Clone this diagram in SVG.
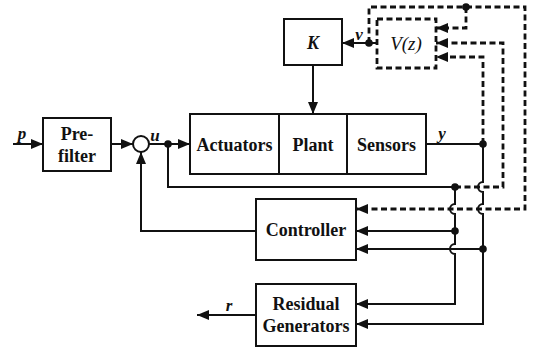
<svg xmlns="http://www.w3.org/2000/svg" width="533" height="352" viewBox="0 0 533 352">
<style>
.box{fill:#fff;stroke:#111;stroke-width:2}
.dbox{fill:none;stroke:#111;stroke-width:2.8;stroke-dasharray:6 3.5}
.ln{fill:none;stroke:#111;stroke-width:2}
.dl{fill:none;stroke:#111;stroke-width:2.8;stroke-dasharray:6 3.5}
.dot{fill:#111}
.t{font-family:"Liberation Serif","Times New Roman",serif;font-weight:bold;font-size:18px;fill:#111;text-anchor:middle}
.lbl{font-family:"Liberation Serif","Times New Roman",serif;font-weight:bold;font-style:italic;font-size:17px;fill:#111;text-anchor:middle}
</style>
<defs>
<marker id="ah" viewBox="0 0 12 10" refX="12" refY="5" markerWidth="12" markerHeight="10" markerUnits="userSpaceOnUse" orient="auto">
<path d="M0,0 L12,5 L0,10 z" fill="#111"/>
</marker>
</defs>
<g id="connectors">
<path class="ln" d="M13,144 H43" marker-end="url(#ah)"/>
<path class="ln" d="M111,144 H133" marker-end="url(#ah)"/>
<path class="ln" d="M149,144 H190" marker-end="url(#ah)"/>
<path class="ln" d="M168,144 V187 H455"/>
<path class="ln" d="M313,65 V114" marker-end="url(#ah)"/>
<path class="ln" d="M377,43 H342" marker-end="url(#ah)"/>
<path class="ln" d="M426,144 H483"/>
<path class="dl" d="M369,43 V7 H525 V209 H356" marker-end="url(#ah)"/>
<path class="dl" d="M466,7 V28 H436" marker-end="url(#ah)"/>
<path class="dl" d="M455,187 H503 V43 H436" marker-end="url(#ah)"/>
<path class="dl" d="M483,144 V57 H436" marker-end="url(#ah)"/>
<path class="ln" d="M483,144 V182 A5,5 0 0 0 483,192 V204 A5,5 0 0 0 483,214 V324 H356" marker-end="url(#ah)"/>
<path class="ln" d="M483,249 H356" marker-end="url(#ah)"/>
<path class="ln" d="M455,187 V204 A5,5 0 0 0 455,214 V244 A5,5 0 0 0 455,254 V304 H356" marker-end="url(#ah)"/>
<path class="ln" d="M455,231 H356" marker-end="url(#ah)"/>
<path class="ln" d="M256,231 H141 V152" marker-end="url(#ah)"/>
<path class="ln" d="M256,315 H197" marker-end="url(#ah)"/>
<circle class="dot" cx="168" cy="144" r="3.8"/>
<circle class="dot" cx="369" cy="43" r="3.8"/>
<circle class="dot" cx="466" cy="7" r="3.8"/>
<circle class="dot" cx="483" cy="144" r="3.8"/>
<circle class="dot" cx="455" cy="187" r="3.8"/>
<circle class="dot" cx="455" cy="231" r="3.8"/>
<circle class="dot" cx="483" cy="249" r="3.8"/>
<text class="lbl" x="22" y="139">p</text>
<text class="lbl" x="155" y="141">u</text>
<text class="lbl" x="359" y="40">v</text>
<text class="lbl" x="442" y="139">y</text>
<text class="lbl" x="229" y="311">r</text>
</g>
<g id="prefilter">
<rect class="box" x="43" y="118" width="68" height="53"/>
<text class="t" x="77" y="140">Pre-</text>
<text class="t" x="77" y="162">filter</text>
</g>
<g id="sum">
<circle cx="141" cy="144" r="8" fill="#fff" stroke="#111" stroke-width="2"/>
</g>
<g id="actuators">
<rect class="box" x="190" y="114" width="89" height="60"/>
<text class="t" x="234.5" y="151">Actuators</text>
</g>
<g id="plant">
<rect class="box" x="279" y="114" width="68" height="60"/>
<text class="t" x="313" y="151">Plant</text>
</g>
<g id="sensors">
<rect class="box" x="347" y="114" width="79" height="60"/>
<text class="t" x="386.5" y="151">Sensors</text>
</g>
<g id="K">
<rect class="box" x="284" y="19" width="58" height="46"/>
<text class="lbl" x="313" y="49" style="font-size:18px">K</text>
</g>
<g id="Vz">
<rect class="dbox" x="377" y="19" width="59" height="49"/>
<text x="406" y="50" style="font-family:'Liberation Serif','Times New Roman',serif;font-style:italic;font-size:19px;fill:#111;text-anchor:middle">V(z)</text>
</g>
<g id="controller">
<rect class="box" x="256" y="199" width="100" height="61"/>
<text class="t" x="306" y="236">Controller</text>
</g>
<g id="residual">
<rect class="box" x="256" y="284" width="100" height="62"/>
<text class="t" x="306" y="310">Residual</text>
<text class="t" x="306" y="332">Generators</text>
</g>
</svg>
